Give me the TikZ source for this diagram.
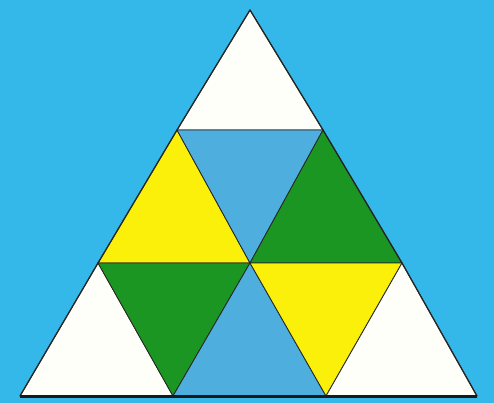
\documentclass[tikz,border=0pt]{standalone}
\definecolor{bgblue}{RGB}{52,184,234}
\definecolor{tblue}{RGB}{78,174,222}
\definecolor{tyellow}{RGB}{250,240,10}
\definecolor{tgreen}{RGB}{28,150,34}
\definecolor{twhite}{RGB}{255,255,250}
\tikzset{
  piece/.style={draw=black!85, line width=0.8pt, line join=round},
  outline/.style={draw=black!85, line width=1.3pt, line join=round},
}
\begin{document}
\begin{tikzpicture}[x=1pt,y=-1pt]
\fill[bgblue] (0,0) rectangle (494,403);
\useasboundingbox (0,0) rectangle (494,403);
% vertices
\coordinate (A) at (250,10);
\coordinate (L1) at (177,130);
\coordinate (R1) at (323,130);
\coordinate (L2) at (98,263);
\coordinate (M2) at (250,263);
\coordinate (R2) at (402,263);
\coordinate (L3) at (20,396);
\coordinate (B1) at (173,396);
\coordinate (B2) at (326,396);
\coordinate (R3) at (477,396);
% row 1
\filldraw[piece, fill=twhite] (A) -- (L1) -- (R1) -- cycle;
% row 2
\filldraw[piece, fill=tyellow] (L1) -- (L2) -- (M2) -- cycle;
\filldraw[piece, fill=tblue] (L1) -- (R1) -- (M2) -- cycle;
\filldraw[piece, fill=tgreen] (R1) -- (M2) -- (R2) -- cycle;
% row 3
\filldraw[piece, fill=twhite] (L2) -- (L3) -- (B1) -- cycle;
\filldraw[piece, fill=tgreen] (L2) -- (M2) -- (B1) -- cycle;
\filldraw[piece, fill=tblue] (M2) -- (B1) -- (B2) -- cycle;
\filldraw[piece, fill=tyellow] (M2) -- (R2) -- (B2) -- cycle;
\filldraw[piece, fill=twhite] (R2) -- (B2) -- (R3) -- cycle;
% outer outline
\draw[outline] (L3) -- (L2) -- (L1) -- (A) -- (R1) -- (R2) -- (R3);
\draw[black!90, line width=3pt] (L3) -- (R3);
\end{tikzpicture}
\end{document}
